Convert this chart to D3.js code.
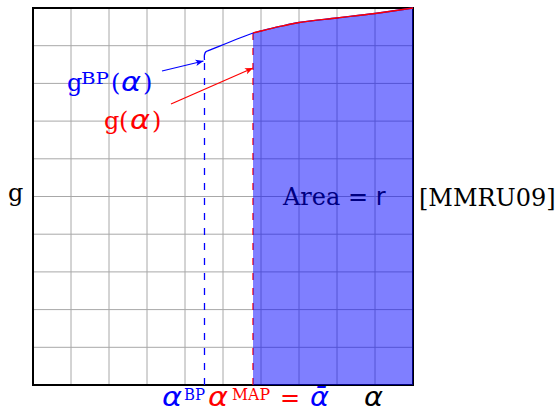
<!DOCTYPE html>
<html>
<head>
<meta charset="utf-8">
<script src="https://cdn.jsdelivr.net/npm/d3@7"></script>
<style>
  html, body { margin: 0; padding: 0; background: #fff; }
  svg { display: block; }
  .serif { font-family: "DejaVu Serif", serif; }
  .math { font-family: "DejaVu Sans", sans-serif; font-style: italic; }
</style>
</head>
<body>
<svg id="chart" width="557" height="412"></svg>
<script>
// Upper bound g(alpha) (solid red), defined from alpha^MAP to the right edge
const curveX = [5.79, 6.0, 6.5, 7.0, 8.0, 9.0, 10.0];
const curveY = [9.337, 9.39, 9.51, 9.615, 9.735, 9.854, 10.0];
// Back-propagated bound g^BP(alpha): short rising segment joining the red curve
const bpX = [4.513, 4.513, 4.55, 4.65, 5.79];
const bpY = [8.62, 8.76, 8.84, 8.88, 9.337];
// Marker positions on the alpha axis
const alphaBP = 4.513;
const alphaMAP = 5.79;
// Annotation arrows: [x0, y0, x1, y1]
const arrowBP = [3.395, 8.329, 4.487, 8.594];
const arrowG = [3.632, 7.454, 5.79, 8.408];
const gridTicks = d3.range(0, 11);

const svg = d3.select("#chart");
const x = d3.scaleLinear().domain([0, 10]).range([33, 413]);
const y = d3.scaleLinear().domain([0, 10]).range([385, 8]);

const defs = svg.append("defs");
[["arrBlue", "#0000ff"], ["arrRed", "#ff0000"]].forEach(([id, c]) => {
  defs.append("marker").attr("id", id).attr("viewBox", "0 -5 10 10")
    .attr("refX", 10).attr("refY", 0).attr("markerWidth", 8).attr("markerHeight", 8)
    .attr("markerUnits", "userSpaceOnUse").attr("orient", "auto")
    .append("path").attr("d", "M0,-4 L10,0 L0,4 L2.5,0 Z").attr("fill", c);
});

// grid
const grid = svg.append("g").attr("stroke", "#a8a8a8").attr("stroke-width", 1);
grid.selectAll("line.v").data(gridTicks).join("line").attr("class", "v")
  .attr("x1", d => x(d)).attr("x2", d => x(d)).attr("y1", y(0)).attr("y2", y(10));
grid.selectAll("line.h").data(gridTicks).join("line").attr("class", "h")
  .attr("y1", d => y(d)).attr("y2", d => y(d)).attr("x1", x(0)).attr("x2", x(10));

// "Area = r" label sits under the translucent fill
const areaT = svg.append("text").attr("x", 283).attr("y", 205)
  .attr("font-size", 24).attr("fill", "#000");
areaT.append("tspan").attr("class", "serif").text("Area = ");
areaT.append("tspan").attr("font-family", "DejaVu Sans").text("r");

// frame
svg.append("rect").attr("x", x(0)).attr("y", y(10))
  .attr("width", x(10) - x(0)).attr("height", y(0) - y(10))
  .attr("fill", "none").attr("stroke", "#000").attr("stroke-width", 2);

// dashed drop lines
svg.append("line").attr("x1", x(alphaBP)).attr("x2", x(alphaBP))
  .attr("y1", y(0)).attr("y2", y(bpY[0]))
  .attr("stroke", "#0000ff").attr("stroke-width", 1.3).attr("stroke-dasharray", "7,8");
svg.append("line").attr("x1", x(alphaMAP)).attr("x2", x(alphaMAP))
  .attr("y1", y(0)).attr("y2", y(curveY[0]))
  .attr("stroke", "#ff0000").attr("stroke-width", 1.3).attr("stroke-dasharray", "7,8");

// shaded area under g from alpha^MAP
const pts = curveX.map((d, i) => [d, curveY[i]]);
const area = d3.area().x(d => x(d[0])).y0(y(0)).y1(d => y(d[1])).curve(d3.curveMonotoneX);
svg.append("path").datum(pts).attr("d", area).attr("fill", "rgba(0,0,255,0.5)");

// curves
const bpPts = bpX.map((d, i) => [d, bpY[i]]);
svg.append("path").datum(bpPts.concat(pts.slice(1)))
  .attr("d", d3.line().x(d => x(d[0])).y(d => y(d[1])).curve(d3.curveCatmullRom.alpha(0.5)))
  .attr("fill", "none").attr("stroke", "#0000ff").attr("stroke-width", 1.3);
svg.append("path").datum(pts)
  .attr("d", d3.line().x(d => x(d[0])).y(d => y(d[1])).curve(d3.curveMonotoneX))
  .attr("fill", "none").attr("stroke", "#ff0000").attr("stroke-width", 1.3);

// arrows
[[arrowBP, "#0000ff", "arrBlue"], [arrowG, "#ff0000", "arrRed"]].forEach(([a, c, m]) => {
  svg.append("line").attr("x1", x(a[0])).attr("y1", y(a[1]))
    .attr("x2", x(a[2])).attr("y2", y(a[3]))
    .attr("stroke", c).attr("stroke-width", 1.2).attr("marker-end", `url(#${m})`);
});

// helper: a run of pieces, each with its own x, baseline offset, size, width, style and colour
function label(pieces, baseY) {
  pieces.forEach(p => {
    const t = svg.append("text").attr("class", p.cls)
      .attr("x", p.x).attr("y", baseY + (p.dy || 0))
      .attr("font-size", p.size).attr("fill", p.fill).text(p.t);
    if (p.w) t.attr("textLength", p.w).attr("lengthAdjust", "spacingAndGlyphs");
  });
}

// labels for the curves
label([
  { t: "g", x: 67, size: 24, cls: "serif", fill: "#0000ff" },
  { t: "BP", x: 81, dy: -7, size: 16, w: 28, cls: "serif", fill: "#0000ff" },
  { t: "(", x: 111, size: 24, cls: "serif", fill: "#0000ff" },
  { t: "α", x: 121, size: 26, w: 20, cls: "math", fill: "#0000ff" },
  { t: ")", x: 143, size: 24, cls: "serif", fill: "#0000ff" }
], 91);
label([
  { t: "g", x: 104, size: 24, cls: "serif", fill: "#ff0000" },
  { t: "(", x: 119, size: 24, cls: "serif", fill: "#ff0000" },
  { t: "α", x: 130, size: 26, w: 20, cls: "math", fill: "#ff0000" },
  { t: ")", x: 152, size: 24, cls: "serif", fill: "#ff0000" }
], 129);

// axis labels
svg.append("text").attr("class", "serif").attr("x", 8).attr("y", 201)
  .attr("font-size", 24).text("g");
svg.append("text").attr("class", "serif").attr("x", 419).attr("y", 206)
  .attr("font-size", 24).text("[MMRU09]");

label([
  { t: "α", x: 162, size: 26, w: 20, cls: "math", fill: "#0000ff" },
  { t: "BP", x: 184, dy: -6, size: 16, w: 21, cls: "serif", fill: "#0000ff" },
  { t: "α", x: 208, size: 26, w: 20, cls: "math", fill: "#ff0000" },
  { t: "MAP", x: 232, dy: -6, size: 16, w: 38, cls: "serif", fill: "#ff0000" },
  { t: "=", x: 280, size: 24, cls: "serif", fill: "#ff0000" },
  { t: "ᾱ", x: 310, size: 26, w: 19, cls: "math", fill: "#0000ff" },
  { t: "α", x: 364, size: 26, w: 19, cls: "math", fill: "#000000" }
], 406);
</script>
</body>
</html>
